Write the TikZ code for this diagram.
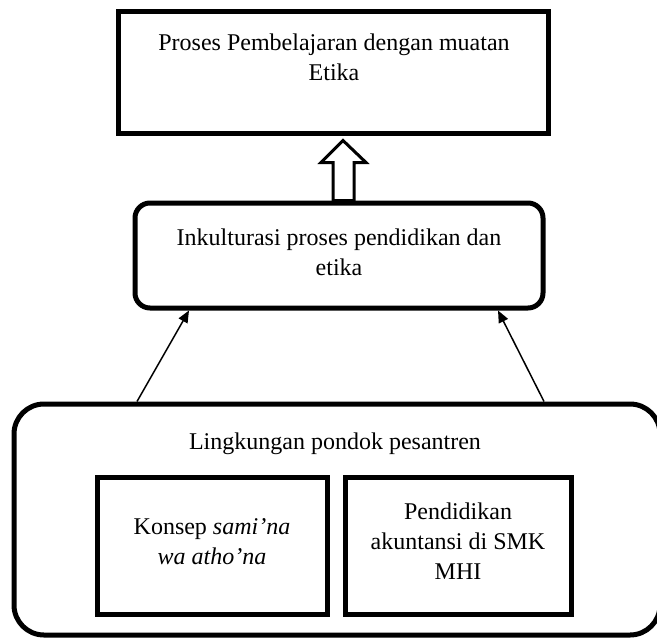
\documentclass[tikz,border=0pt]{standalone}
\usepackage{fontspec}
\setmainfont{Liberation Serif}
\usetikzlibrary{positioning,arrows.meta}
\begin{document}
\begin{tikzpicture}[x=0.5pt, y=-0.5pt,
  box/.style={draw, line width=2.5pt, inner sep=0pt},
  rbox/.style={box, rounded corners=#1},
  lbl/.style={align=center, font=\fontsize{12}{15}\selectfont, inner sep=0pt},
  thin arrow/.style={-{Triangle[length=6pt,width=5pt]}, line width=0.75pt},
  hollow/.style={line width=1.5pt, line join=miter}]
\useasboundingbox (0,0) rectangle (657,637);

\node[box, minimum width=215pt, minimum height=61pt]      (proses) at (333,72)    {};
\node[rbox=7.5pt, minimum width=204pt, minimum height=52.5pt] (inkul)  at (339,255.5) {};
\node[rbox=15pt, minimum width=323pt, minimum height=115.5pt] (lingk)  at (337,519.5) {};
\node[box, minimum width=115pt, minimum height=68.5pt]    (konsep) at (212,545.5) {};
\node[box, minimum width=113pt, minimum height=68.5pt]    (pendak) at (458,545.5) {};

\node[lbl] (proseslbl) at (334,57)  {Proses Pembelajaran dengan muatan\\Etika};
\node[lbl] (inkullbl)  at (339,252) {Inkulturasi proses pendidikan dan\\etika};
\node[lbl] (lingklbl)  at (335,444) {Lingkungan pondok pesantren};
\node[lbl] (konseplbl) at (212,542) {Konsep \textit{sami'na}\\\textit{wa atho'na}};
\node[lbl] (pendaklbl) at (458,541) {Pendidikan\\akuntansi di SMK\\MHI};

\coordinate (tip) at ([xshift=5pt,yshift=-2.5pt]proses.south);
\draw[hollow] (tip) -- ++(23,22) -- ++(-12,0) coordinate (hr)
  -- (hr |- inkul.north) -- ++(-21,0) coordinate (hl)
  -- (hl |- hr) -- ++(-12,0) -- cycle;

\draw[thin arrow] ([xshift=-100pt]lingk.north) -- ([xshift=-75pt]inkul.south);
\draw[thin arrow] ([xshift=103.5pt]lingk.north) -- ([xshift=79.5pt]inkul.south);
\end{tikzpicture}
\end{document}
